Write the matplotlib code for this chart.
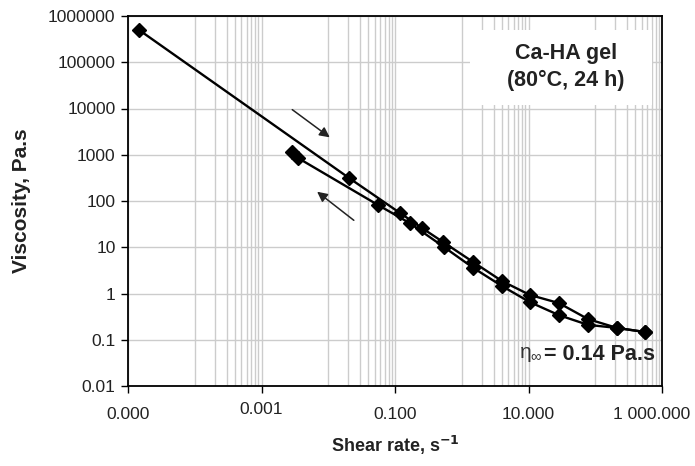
import matplotlib
matplotlib.use("Agg")
import matplotlib.pyplot as plt
import matplotlib.transforms as mtransforms
from matplotlib.patches import Rectangle
import numpy as np

plt.rcParams['font.family'] = ['Liberation Sans', 'DejaVu Sans']
plt.rcParams['mathtext.fontset'] = 'custom'
plt.rcParams['mathtext.rm'] = 'Liberation Sans'
plt.rcParams['mathtext.it'] = 'Liberation Sans'

# Up-sweep (upper curve)
up_rate = [1.46e-5, 0.0205, 0.119, 0.254, 0.524, 1.48, 4.0, 10.5, 28.6, 77.8, 212, 556]
up_visc = [5.0e5, 314, 55, 26, 13, 4.8, 1.86, 0.93, 0.62, 0.28, 0.18, 0.147]
# Down-sweep (lower curve)
down_rate = [556, 212, 77.8, 28.6, 10.5, 4.0, 1.48, 0.542, 0.168, 0.0556, 3.52e-3, 2.86e-3]
down_visc = [0.147, 0.18, 0.21, 0.34, 0.65, 1.45, 3.6, 10.1, 33, 82, 851, 1146]

x_ticks = [1e-5, 1e-3, 1e-1, 10, 1000]
x_tick_labels = ["0.000", "0.001", "0.100", "10.000", "1 000.000"]
y_ticks = [0.01, 0.1, 1, 10, 100, 1000, 10000, 100000, 1000000]
y_tick_labels = ["0.01", "0.1", "1", "10", "100", "1000", "10000", "100000", "1000000"]
x_minor_grid = [k * 10.0 ** e for e in (-4, -2, 0, 2) for k in range(1, 10)]

fig = plt.figure(figsize=(6.95, 4.66), dpi=100)
ax = fig.add_axes([128 / 695, 1 - 386 / 466, 534 / 695, 370 / 466])
ax.set_xscale('log')
ax.set_yscale('log')
ax.set_xlim(1e-5, 1000)
ax.set_ylim(0.01, 1e6)

grid_c = '#cccccc'
for v in x_minor_grid:
    ax.axvline(v, color=grid_c, lw=1.0, zorder=0)
for v in x_ticks:
    ax.axvline(v, color=grid_c, lw=1.0, zorder=0)
for v in y_ticks:
    ax.axhline(v, color=grid_c, lw=1.0, zorder=0)

ax.plot(up_rate, up_visc, color='black', lw=1.7, marker='D', markersize=7, zorder=3)
ax.plot(down_rate, down_visc, color='black', lw=1.7, marker='D', markersize=7, zorder=3)

ax.set_xticks(x_ticks)
ax.set_xticklabels(x_tick_labels)
ax.xaxis.set_minor_locator(matplotlib.ticker.NullLocator())
ax.set_yticks(y_ticks)
ax.set_yticklabels(y_tick_labels)
ax.yaxis.set_minor_locator(matplotlib.ticker.NullLocator())
ax.tick_params(axis='both', which='major', direction='out', length=5, width=1.0,
               labelsize=12.5, colors='black', labelcolor='#222222')
ax.tick_params(axis='x', pad=10)
ax.tick_params(axis='y', pad=4)
for lbl in ax.get_xticklabels():
    if lbl.get_text() == "0.001":
        lbl.set_transform(lbl.get_transform() + mtransforms.ScaledTranslation(0, 5 / 100, fig.dpi_scale_trans))
    if lbl.get_text() == "1 000.000":
        lbl.set_transform(lbl.get_transform() + mtransforms.ScaledTranslation(-10 / 100, 0, fig.dpi_scale_trans))

for s in ax.spines.values():
    s.set_color('black')
    s.set_linewidth(1.3)

ax.set_xlabel('Shear rate, s$^{\\mathbf{-1}}$', fontsize=13, fontweight='bold', labelpad=9, color='#222222')
ax.set_ylabel('Viscosity, Pa.s', fontsize=15, fontweight='bold', labelpad=12, color='#222222')

# Label box
ax.add_patch(Rectangle((0.640, 0.7595), 0.341, 0.2025, transform=ax.transAxes,
                       facecolor='white', edgecolor='none', zorder=2))
ax.text(0.8196, 0.900, 'Ca-HA gel', transform=ax.transAxes, ha='center', va='center',
        fontsize=15.5, fontweight='bold', color='#222222', zorder=4)
ax.text(0.8196, 0.827, '(80°C, 24 h)', transform=ax.transAxes, ha='center', va='center',
        fontsize=15.5, fontweight='bold', color='#222222', zorder=4)

ax.text(0.987, 0.085, '= 0.14 Pa.s', transform=ax.transAxes, ha='right', va='center',
        fontsize=15.5, fontweight='bold', color='#222222', zorder=4)
ax.text(0.777, 0.085, '$\\eta_{\\infty}$', transform=ax.transAxes, ha='right', va='center',
        fontsize=15, color='#333333', zorder=4)

# Arrows
ax.annotate('', xy=(0.382, 0.6676), xytext=(0.3034, 0.7514), xycoords='axes fraction',
            arrowprops=dict(arrowstyle='-|>', color='#222222', lw=1.1, mutation_scale=15))
ax.annotate('', xy=(0.350, 0.5297), xytext=(0.427, 0.4432), xycoords='axes fraction',
            arrowprops=dict(arrowstyle='-|>', color='#222222', lw=1.1, mutation_scale=15))

fig.savefig('out.png', dpi=100)
